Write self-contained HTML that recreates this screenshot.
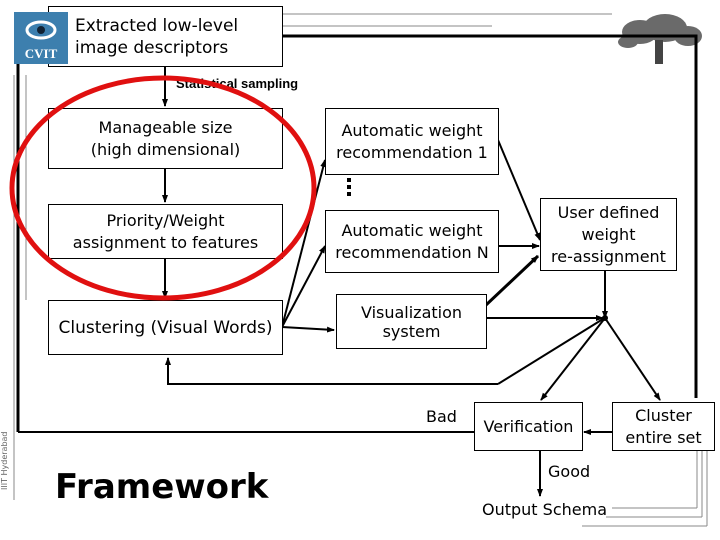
<!DOCTYPE html>
<html><head><style>
body{margin:0;width:720px;height:540px;background:#fff;overflow:hidden;position:relative;font-family:"DejaVu Sans","Liberation Sans",sans-serif}
.b{position:absolute;border:1px solid #000;background:#fff;box-sizing:border-box;display:flex;align-items:center;justify-content:center;text-align:center;font-size:16px;line-height:22px;color:#000}
.t{position:absolute;font-size:16px;color:#000;white-space:nowrap}
</style></head><body>
<svg width="720" height="540" style="position:absolute;left:0;top:0">
<defs><marker id="a" markerWidth="8" markerHeight="8" refX="7" refY="4" orient="auto" markerUnits="userSpaceOnUse"><path d="M0,1 L8,4 L0,7z" fill="#000"/></marker></defs>
<g stroke="#888" stroke-width="1" fill="none">
<line x1="72" y1="14" x2="612" y2="14"/><line x1="72" y1="26" x2="492" y2="26"/>
<line x1="14" y1="75" x2="14" y2="500"/><line x1="26" y1="75" x2="26" y2="300"/>
<line x1="612" y1="508" x2="697" y2="508"/><line x1="697" y1="508" x2="697" y2="448"/>
<line x1="606" y1="517" x2="702" y2="517"/><line x1="702" y1="517" x2="702" y2="420"/>
<line x1="582" y1="526" x2="707" y2="526"/><line x1="707" y1="526" x2="707" y2="420"/>
</g>
<g fill="#6a6a6a">
<ellipse cx="640" cy="32" rx="18" ry="12"/><ellipse cx="665" cy="28" rx="22" ry="14"/><ellipse cx="688" cy="36" rx="14" ry="10"/><ellipse cx="628" cy="42" rx="10" ry="6"/>
<rect x="655" y="40" width="8" height="24" fill="#444"/>
</g>
<g stroke="#000" fill="none">
<polyline points="18,432 18,36 46,36" stroke-width="3"/>
<polyline points="282,36 696,36 696,398" stroke-width="3"/>
<line x1="18" y1="432" x2="474" y2="432" stroke-width="2"/>
<line x1="165" y1="66" x2="165" y2="106" stroke-width="2" marker-end="url(#a)"/>
<line x1="165" y1="168" x2="165" y2="202" stroke-width="2" marker-end="url(#a)"/>
<line x1="165" y1="258" x2="165" y2="298" stroke-width="2" marker-end="url(#a)"/>
<polyline points="498,384 168,384 168,358" stroke-width="2" marker-end="url(#a)"/>
<line x1="498" y1="384" x2="603" y2="319" stroke-width="2"/>
<line x1="282" y1="327" x2="325" y2="160" stroke-width="2" marker-end="url(#a)"/>
<line x1="282" y1="327" x2="325" y2="246" stroke-width="2" marker-end="url(#a)"/>
<line x1="282" y1="327" x2="334" y2="330" stroke-width="2" marker-end="url(#a)"/>
<line x1="498" y1="140" x2="540" y2="240" stroke-width="2" marker-end="url(#a)"/>
<line x1="498" y1="246" x2="539" y2="246" stroke-width="2" marker-end="url(#a)"/>
<line x1="486" y1="305" x2="538" y2="256" stroke-width="3" marker-end="url(#a)"/>
<line x1="605" y1="270" x2="605" y2="318" stroke-width="2" marker-end="url(#a)"/>
<line x1="486" y1="318" x2="603" y2="318" stroke-width="2" marker-end="url(#a)"/>
<line x1="605" y1="318" x2="541" y2="400" stroke-width="2" marker-end="url(#a)"/>
<line x1="605" y1="318" x2="660" y2="400" stroke-width="2" marker-end="url(#a)"/>
<line x1="612" y1="432" x2="584" y2="432" stroke-width="2" marker-end="url(#a)"/>
<line x1="540" y1="450" x2="540" y2="496" stroke-width="2" marker-end="url(#a)"/>
</g>
<circle cx="605" cy="318" r="3"/>
<rect x="347" y="178" width="4" height="4"/><rect x="347" y="185" width="4" height="4"/><rect x="347" y="192" width="4" height="4"/>
</svg>
<div class="b" style="left:48px;top:6px;width:235px;height:61px;justify-content:flex-start;padding-left:26px;text-align:left;font-size:17px">Extracted low-level<br>image descriptors</div>
<div class="t" style="left:176px;top:76px;font-size:13px;font-weight:bold;font-family:'Liberation Sans',sans-serif">Statistical sampling</div>
<div class="b" style="left:48px;top:108px;width:235px;height:61px">Manageable size<br>(high dimensional)</div>
<div class="b" style="left:48px;top:204px;width:235px;height:55px">Priority/Weight<br>assignment to features</div>
<div class="b" style="left:48px;top:300px;width:235px;height:55px;font-size:17px">Clustering (Visual Words)</div>
<div class="b" style="left:325px;top:108px;width:174px;height:67px">Automatic weight<br>recommendation 1</div>
<div class="b" style="left:325px;top:210px;width:174px;height:63px">Automatic weight<br>recommendation N</div>
<div class="b" style="left:540px;top:198px;width:137px;height:73px;line-height:22px">User defined<br>weight<br>re-assignment</div>
<div class="b" style="left:336px;top:294px;width:151px;height:55px;line-height:19px">Visualization<br>system</div>
<div class="b" style="left:474px;top:402px;width:109px;height:49px">Verification</div>
<div class="b" style="left:612px;top:402px;width:103px;height:49px">Cluster<br>entire set</div>
<svg width="720" height="540" style="position:absolute;left:0;top:0;pointer-events:none">
<rect x="14" y="12" width="54" height="52" fill="#3d7fae"/>
<ellipse cx="41" cy="30" rx="14" ry="8" fill="none" stroke="#fff" stroke-width="3"/>
<circle cx="41" cy="30" r="4" fill="#123"/>
<text x="41" y="58" font-size="13" font-weight="bold" fill="#fff" text-anchor="middle" font-family="Liberation Serif">CVIT</text>
<ellipse cx="163" cy="188" rx="151" ry="110" fill="none" stroke="#e01010" stroke-width="5"/>
</svg>
<div class="t" style="left:426px;top:407px">Bad</div>
<div class="t" style="left:548px;top:462px">Good</div>
<div class="t" style="left:482px;top:500px">Output Schema</div>
<div class="t" style="left:55px;top:467px;font-size:34px;font-weight:bold">Framework</div>
<div class="t" style="left:0px;top:490px;font-size:8px;color:#666;transform:rotate(-90deg);transform-origin:0 0">IIIT Hyderabad</div>
</body></html>
